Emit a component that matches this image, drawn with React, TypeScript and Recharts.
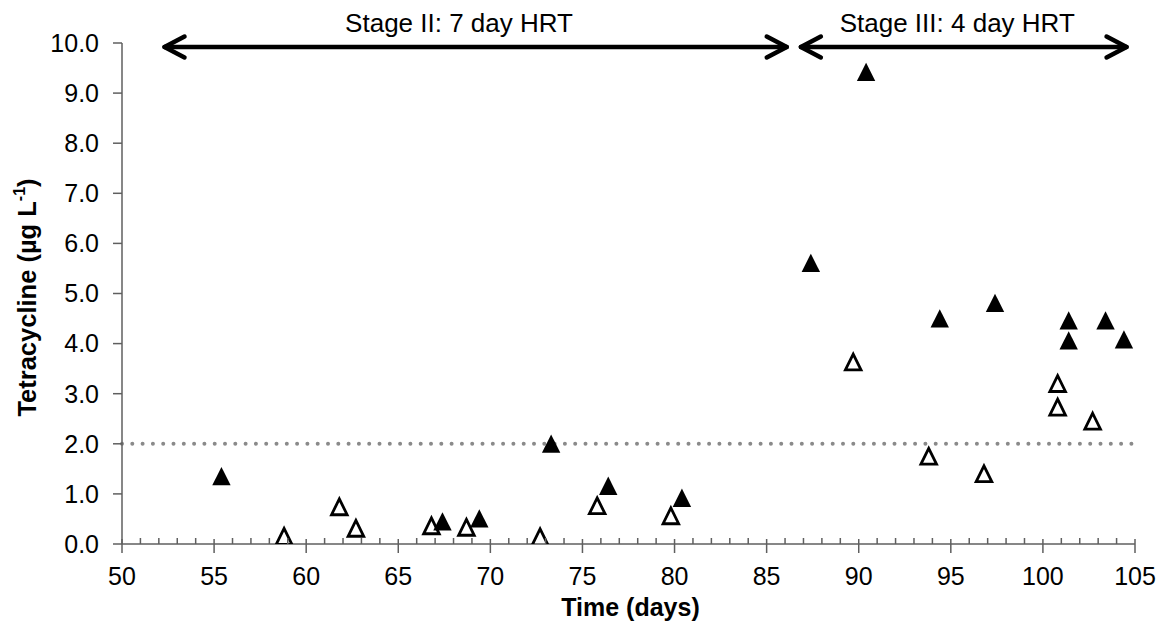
import {
  ScatterChart, Scatter, XAxis, YAxis, ReferenceLine, ReferenceDot
} from 'recharts'

// Tetracycline, filled triangles
const filledDays = [55.4, 67.4, 69.4, 73.3, 76.4, 80.4, 87.4, 90.4, 94.4, 97.4, 101.4, 101.4, 103.4, 104.4]
const filledConc = [1.35, 0.45, 0.51, 2.0, 1.16, 0.92, 5.61, 9.42, 4.5, 4.81, 4.46, 4.06, 4.46, 4.08]

// Tetracycline, open triangles
const openDays = [58.8, 61.8, 62.7, 66.8, 68.7, 72.7, 75.8, 79.8, 89.7, 93.8, 96.8, 100.8, 100.8, 102.7]
const openConc = [0.15, 0.74, 0.31, 0.36, 0.33, 0.14, 0.76, 0.56, 3.63, 1.75, 1.4, 3.2, 2.73, 2.45]

const xMajorTicks = [50, 55, 60, 65, 70, 75, 80, 85, 90, 95, 100, 105]
const yTicks = [0, 1, 2, 3, 4, 5, 6, 7, 8, 9, 10]
const threshold = 2.0

const stageLabels = ['Stage II: 7 day HRT', 'Stage III: 4 day HRT']
const stageStart = [52.2, 86.75]
const stageEnd = [86.2, 104.65]
const stageLabelX = [68.3, 95.35]
const stageY = 9.92
const stageLabelY = 10.41

const FONT = '"Liberation Sans", Arial, sans-serif'
const AXIS = '#5f5f5f'

const filled = filledDays.map((d, i) => ({ day: d, conc: filledConc[i] }))
const open = openDays.map((d, i) => ({ day: d, conc: openConc[i] }))
const allDays = Array.from({ length: 56 }, (_, i) => 50 + i)

const FilledTri = (p: any) => {
  const { cx, cy } = p
  return <path d={`M${cx},${cy - 9.3} L${cx + 9.2},${cy + 9} L${cx - 9.2},${cy + 9} Z`} fill="#000" />
}

const OpenTri = (p: any) => {
  const { cx, cy } = p
  return (
    <path
      d={`M${cx},${cy - 8} L${cx + 7.8},${cy + 7.8} L${cx - 7.8},${cy + 7.8} Z`}
      fill="#fff" stroke="#000" strokeWidth={2.8} strokeLinejoin="miter"
    />
  )
}

const XTick = (p: any) => {
  const { x, y, payload } = p
  const v = payload.value
  const major = xMajorTicks.includes(v)
  return (
    <g>
      <line x1={x} x2={x} y1={y - (major ? 5 : 6)} y2={y + (major ? 9 : 0)} stroke={AXIS} strokeWidth={1.5} />
      {major && (
        <text x={x} y={y + 32} textAnchor="middle" dominantBaseline="central"
          fontFamily={FONT} fontSize={25} fill="#000">{v}</text>
      )}
    </g>
  )
}

const XTitle = (p: any) => {
  const { x, y, width } = p.viewBox
  return (
    <text x={x + width / 2 + 2} y={y + 63} textAnchor="middle" dominantBaseline="central"
      fontFamily={FONT} fontSize={25} fontWeight="bold" fill="#000">Time (days)</text>
  )
}

const YTitle = (p: any) => {
  const { x, y, height } = p.viewBox
  const cx = x + 27
  const cy = y + height / 2 + 4
  return (
    <text x={cx} y={cy} transform={`rotate(-90 ${cx} ${cy})`} textAnchor="middle" dominantBaseline="central"
      fontFamily={FONT} fontSize={25.5} fontWeight="bold" fill="#000">
      <tspan>Tetracycline (µg L</tspan>
      <tspan dy={-8} fontSize={16}>-1</tspan>
      <tspan dy={8}>)</tspan>
    </text>
  )
}

const Arrow = (p: any) => {
  const { x1, y1, x2, y2 } = p
  const a = 20
  const b = 10.5
  const l = x1 + 2
  const r = x2 - 2
  return (
    <g stroke="#000" strokeWidth={4.5} fill="none" strokeLinecap="round" strokeLinejoin="round">
      <line x1={l} y1={y1} x2={r} y2={y2} />
      <polyline points={`${l + a},${y1 - b} ${l},${y1} ${l + a},${y1 + b}`} />
      <polyline points={`${r - a},${y2 - b} ${r},${y2} ${r - a},${y2 + b}`} />
    </g>
  )
}

export default function App() {
  return (
    <div style={{ position: 'absolute', left: 0, top: 0, background: '#fff' }}>
      <ScatterChart width={1166} height={632} margin={{ top: 43, right: 31, bottom: 0, left: 0 }}>
        <XAxis
          dataKey="day" type="number" domain={[50, 105]} ticks={allDays} interval={0}
          height={88} tickSize={0} tickMargin={0} tickLine={false}
          axisLine={{ stroke: AXIS, strokeWidth: 1.5 }} tick={<XTick />}
          label={<XTitle />}
          allowDataOverflow
        />
        <YAxis
          dataKey="conc" type="number" domain={[0, 10]} ticks={yTicks} interval={0}
          width={122} tickSize={9} tickMargin={14}
          tickFormatter={(v: number) => v.toFixed(1)}
          tick={{ fontFamily: FONT, fontSize: 25, fill: '#000' }}
          tickLine={{ stroke: AXIS, strokeWidth: 1.5 }}
          axisLine={{ stroke: AXIS, strokeWidth: 1.5 }}
          label={<YTitle />}
          allowDataOverflow
        />
        <ReferenceLine y={threshold} stroke="#8a8a8a" strokeWidth={4} strokeDasharray="0 10.3" strokeLinecap="round" />
        {stageLabels.map((s, i) => (
          <ReferenceLine
            key={s}
            segment={[{ x: stageStart[i], y: stageY }, { x: stageEnd[i], y: stageY }]}
            shape={Arrow}
          />
        ))}
        {stageLabels.map((s, i) => (
          <ReferenceDot
            key={'l' + s}
            x={stageLabelX[i]} y={stageLabelY} r={0} ifOverflow="visible"
            fill="none" stroke="none"
            label={{ value: s, position: 'center', fill: '#000', fontSize: 26, fontFamily: FONT }}
          />
        ))}
        <Scatter data={open} shape={OpenTri} isAnimationActive={false} />
        <Scatter data={filled} shape={FilledTri} isAnimationActive={false} />
      </ScatterChart>
    </div>
  )
}
